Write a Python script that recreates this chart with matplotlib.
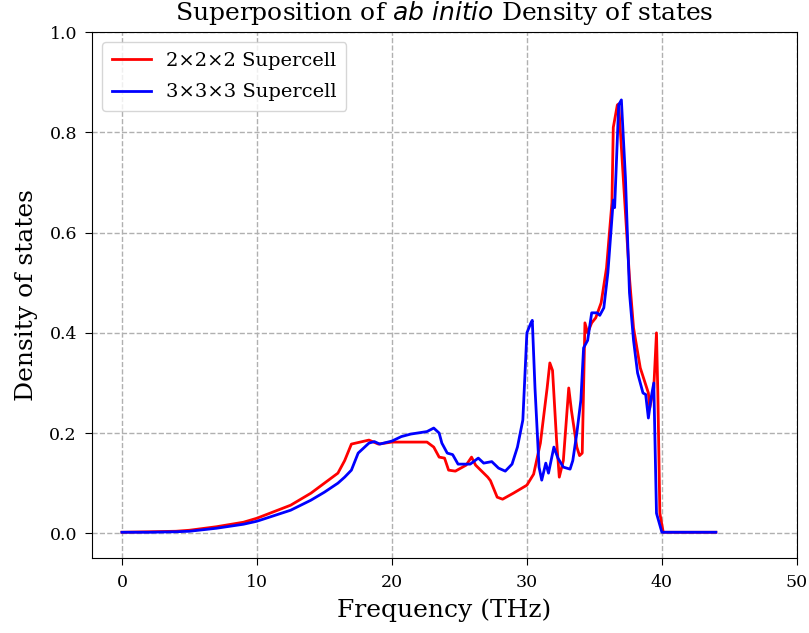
import matplotlib
matplotlib.use("Agg")
import matplotlib.pyplot as plt

# 2x2x2 supercell DOS
freq_222 = [0, 2, 4, 5, 7, 9, 10, 12.5, 14, 15, 16, 16.5, 17.0, 18.3, 19.0, 20, 22.6,
            23.1, 23.5, 23.9, 24.2, 24.7, 25.5, 25.9, 26.2, 27.1, 27.3, 27.8, 28.2,
            29.0, 30.0, 30.5, 31.0, 31.5, 31.7, 31.9, 32.2, 32.4, 32.7, 33.1, 33.3,
            33.7, 33.9, 34.1, 34.3, 34.5, 34.8, 35.1, 35.5, 35.9, 36.3, 36.4, 36.7,
            36.8, 37.6, 37.9, 38.4, 39.0, 39.1, 39.4, 39.6, 39.7, 39.85, 40.1, 42, 44]
dos_222 = [0.002, 0.003, 0.004, 0.006, 0.013, 0.022, 0.030, 0.056, 0.080, 0.100, 0.120,
           0.145, 0.178, 0.186, 0.178, 0.182, 0.182, 0.172, 0.152, 0.150, 0.126, 0.124,
           0.136, 0.152, 0.136, 0.112, 0.105, 0.072, 0.068, 0.080, 0.096, 0.118, 0.180,
           0.290, 0.340, 0.325, 0.185, 0.112, 0.145, 0.290, 0.245, 0.172, 0.155, 0.160,
           0.420, 0.400, 0.420, 0.430, 0.460, 0.530, 0.660, 0.810, 0.855, 0.857, 0.510,
           0.410, 0.330, 0.280, 0.250, 0.290, 0.400, 0.280, 0.040, 0.002, 0.002, 0.002]

# 3x3x3 supercell DOS
freq_333 = [0, 2, 4, 5, 7, 9, 10, 12.5, 14, 15, 16, 16.5, 17.0, 17.5, 17.9, 18.3, 18.7,
            19.1, 20, 20.7, 21.4, 22.6, 23.1, 23.5, 23.7, 24.1, 24.5, 24.9, 25.8, 26.4,
            26.8, 27.4, 27.9, 28.4, 28.9, 29.3, 29.7, 30.0, 30.3, 30.4, 30.6, 30.9,
            31.1, 31.4, 31.6, 32.0, 32.3, 32.7, 33.2, 33.4, 33.7, 34.0, 34.2, 34.5,
            34.8, 35.2, 35.4, 35.7, 36.0, 36.4, 36.5, 36.8, 37.0, 37.3, 37.6, 37.9,
            38.2, 38.6, 38.8, 39.0, 39.2, 39.4, 39.6, 40.0, 42, 44]
dos_333 = [0.002, 0.002, 0.003, 0.004, 0.010, 0.018, 0.024, 0.046, 0.066, 0.082, 0.100,
           0.112, 0.126, 0.160, 0.170, 0.180, 0.183, 0.178, 0.184, 0.193, 0.198, 0.203,
           0.210, 0.200, 0.180, 0.160, 0.157, 0.138, 0.138, 0.150, 0.140, 0.143, 0.130,
           0.124, 0.138, 0.172, 0.226, 0.400, 0.420, 0.425, 0.290, 0.132, 0.106, 0.140,
           0.120, 0.172, 0.150, 0.132, 0.128, 0.145, 0.200, 0.266, 0.370, 0.385, 0.440,
           0.440, 0.435, 0.450, 0.520, 0.665, 0.650, 0.855, 0.865, 0.710, 0.480, 0.385,
           0.320, 0.280, 0.277, 0.230, 0.270, 0.300, 0.040, 0.002, 0.002, 0.002]

labels = ["2\u00d72\u00d72 Supercell", "3\u00d73\u00d73 Supercell"]

plt.rcParams["font.family"] = "serif"
plt.rcParams["font.serif"] = ["DejaVu Serif"]

fig = plt.figure(figsize=(8.09, 6.33), dpi=100)
ax = fig.add_axes([0.114, 0.118, 0.871, 0.831])
ax.plot(freq_222, dos_222, color="red", lw=2, label=labels[0])
ax.plot(freq_333, dos_333, color="blue", lw=2, label=labels[1])
ax.set_xlim(-2.2, 50)
ax.set_ylim(-0.05, 1.0)
ax.grid(True, linestyle="--", color="#b0b0b0", lw=1)
ax.tick_params(labelsize=12.5, length=5, pad=6)
ax.set_xlabel("Frequency (THz)", fontsize=18, labelpad=6)
ax.set_ylabel("Density of states", fontsize=18, labelpad=8)
ax.set_title(r"Superposition of $ab$ $initio$ Density of states", fontsize=18, pad=9)
ax.legend(loc="upper left", fontsize=14, borderpad=0.5, labelspacing=0.7)
fig.savefig("out.png", dpi=100)
